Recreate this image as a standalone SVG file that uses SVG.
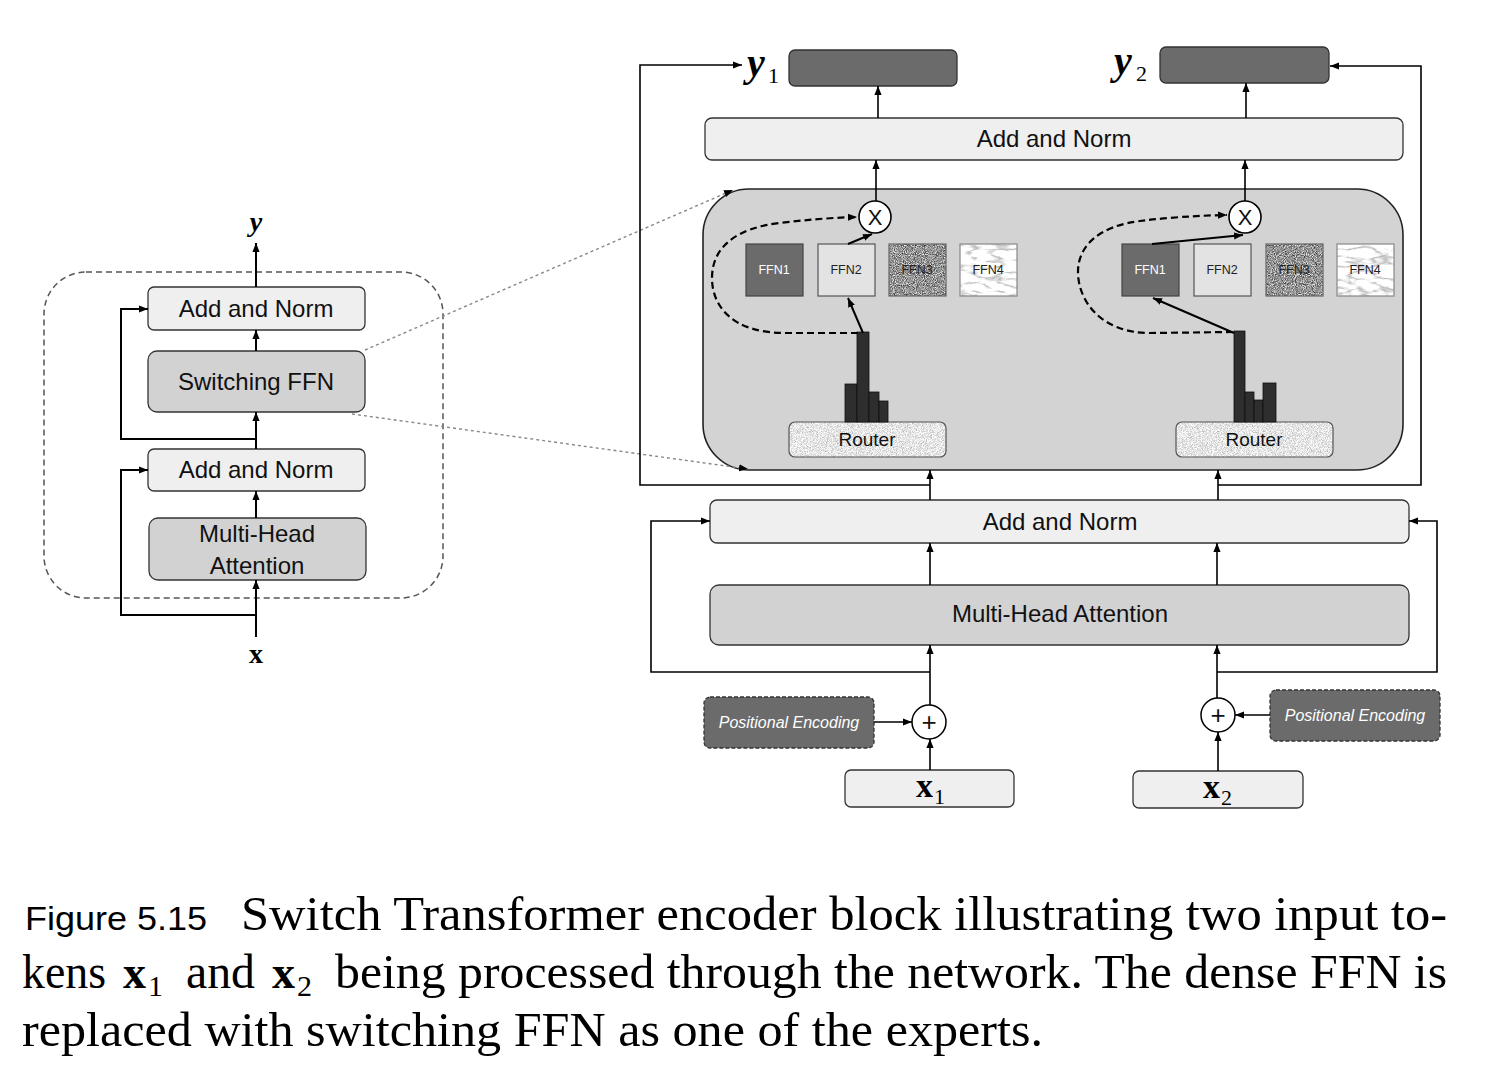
<svg xmlns="http://www.w3.org/2000/svg" width="1492" height="1076" viewBox="0 0 1492 1076">
<style>
.box{stroke:#333;stroke-width:1.3}
.light{fill:#efefef}
.mid{fill:#d2d2d2}
.dark{fill:#6b6b6b}
.ln{fill:none;stroke:#000;stroke-width:1.6}
.lnl{fill:none;stroke:#000;stroke-width:2}
.dash{fill:none;stroke:#000;stroke-width:2.2;stroke-dasharray:7,4}
.dot{fill:none;stroke:#888;stroke-width:1.4;stroke-dasharray:3,3}
.lbl{font-family:"Liberation Sans",Arial,sans-serif;font-size:24px;fill:#111;text-anchor:middle}
.ffn{font-family:"Liberation Sans",Arial,sans-serif;font-size:12.5px;text-anchor:middle;fill:#222}
.pe{font-family:"Liberation Sans",Arial,sans-serif;font-size:16px;font-style:italic;fill:#fff;text-anchor:middle}
.math{font-family:"Liberation Serif","Times New Roman",serif;font-weight:bold;fill:#000}
.sub{font-family:"Liberation Serif","Times New Roman",serif;fill:#000}
.cap{font-family:"Liberation Serif","Times New Roman",serif;font-size:48px;fill:#000}
.bar{fill:#2e2e2e;stroke:#111;stroke-width:0.8}
</style>
<defs>
<marker id="ah" viewBox="0 0 10 10" refX="10" refY="5" markerWidth="9" markerHeight="9" markerUnits="userSpaceOnUse" orient="auto"><path d="M0,1 L10,5 L0,9 z" fill="#000"/></marker>
<filter id="fNoise" x="0" y="0" width="1" height="1" color-interpolation-filters="sRGB">
<feTurbulence type="fractalNoise" baseFrequency="1.1" numOctaves="1" seed="5" result="n"/>
<feColorMatrix in="n" type="matrix" values="1.4 0 0 0 -0.12  1.4 0 0 0 -0.12  1.4 0 0 0 -0.12  0 0 0 0 1" result="g"/>
<feComposite in="g" in2="SourceAlpha" operator="in"/>
</filter>
<filter id="fMarble" x="0" y="0" width="1" height="1" color-interpolation-filters="sRGB">
<feTurbulence type="turbulence" baseFrequency="0.04 0.12" numOctaves="3" seed="8" result="n"/>
<feColorMatrix in="n" type="matrix" values="1.0 0 0 0 0.7  1.0 0 0 0 0.7  1.0 0 0 0 0.7  0 0 0 0 1" result="g"/>
<feComposite in="g" in2="SourceAlpha" operator="in"/>
</filter>
<filter id="fSpeck" x="0" y="0" width="1" height="1" color-interpolation-filters="sRGB">
<feTurbulence type="fractalNoise" baseFrequency="1.2" numOctaves="2" seed="3" result="n"/>
<feColorMatrix in="n" type="matrix" values="0.6 0 0 0 0.6  0.6 0 0 0 0.6  0.6 0 0 0 0.6  0 0 0 0 1" result="g"/>
<feComposite in="g" in2="SourceAlpha" operator="in"/>
</filter>
</defs>
<rect width="1492" height="1076" fill="#fff"/>

<!-- Left encoder block -->
<g id="left-block">
<rect x="44" y="272" width="399" height="326" rx="42" fill="none" stroke="#555" stroke-width="1.5" stroke-dasharray="6,4"/>
</g>
<g id="left-addnorm-top"><rect class="box light" x="148" y="287" width="217" height="43" rx="6"/><text class="lbl" x="256" y="317">Add and Norm</text></g>
<g id="left-switching-ffn"><rect class="box mid" x="148" y="351" width="217" height="61" rx="9"/><text class="lbl" x="256" y="390">Switching FFN</text></g>
<g id="left-addnorm-bottom"><rect class="box light" x="148" y="449" width="217" height="42" rx="6"/><text class="lbl" x="256" y="478">Add and Norm</text></g>
<g id="left-mha"><rect class="box mid" x="149" y="518" width="217" height="62" rx="9"/><text class="lbl" x="257" y="542">Multi-Head</text><text class="lbl" x="257" y="574">Attention</text></g>
<g id="left-y"><text class="math" x="256" y="231" font-size="28" font-style="italic" text-anchor="middle">y</text></g>
<g id="left-x"><text class="math" x="256" y="663" font-size="28" text-anchor="middle">x</text></g>

<!-- Right: outputs -->
<g id="y1"><rect class="box dark" x="789" y="50" width="168" height="36" rx="6"/><text class="math" x="747" y="76" font-size="40" font-style="italic">y</text><text class="sub" x="768" y="83" font-size="22">1</text></g>
<g id="y2"><rect class="box dark" x="1160" y="47" width="169" height="36" rx="6"/><text class="math" x="1114" y="74" font-size="40" font-style="italic">y</text><text class="sub" x="1136" y="81" font-size="22">2</text></g>
<g id="addnorm-top"><rect class="box light" x="705" y="118" width="698" height="42" rx="7"/><text class="lbl" x="1054" y="147">Add and Norm</text></g>

<!-- Switching FFN expanded -->
<g id="switch-block"><rect x="703" y="189" width="700" height="281" rx="46" fill="#d3d3d3" stroke="#222" stroke-width="1.6"/></g>

<g id="ffn-left">
<g id="ffn1-a"><rect class="dark" x="746" y="244" width="57" height="52" stroke="#444" stroke-width="1.2"/><text class="ffn" x="774" y="274" style="fill:#fff">FFN1</text></g>
<g id="ffn2-a"><rect x="818" y="244" width="57" height="52" fill="#e3e3e3" stroke="#555" stroke-width="1.2"/><text class="ffn" x="846" y="274">FFN2</text></g>
<g id="ffn3-a"><rect x="889" y="244" width="57" height="52" fill="#888" filter="url(#fNoise)"/><rect x="889" y="244" width="57" height="52" fill="none" stroke="#666" stroke-width="1.2"/><text class="ffn" x="917" y="274">FFN3</text></g>
<g id="ffn4-a"><rect x="960" y="244" width="57" height="52" fill="#eee" filter="url(#fMarble)"/><rect x="960" y="244" width="57" height="52" fill="none" stroke="#888" stroke-width="1.2"/><text class="ffn" x="988" y="274">FFN4</text></g>
<g id="router-a"><rect x="789" y="422" width="157" height="35" rx="6" fill="#eaeaea" filter="url(#fSpeck)"/><rect x="789" y="422" width="157" height="35" rx="6" fill="none" stroke="#555" stroke-width="1.2"/><text class="lbl" x="867" y="446" style="font-size:19px">Router</text></g>
<g id="hist-a"><rect class="bar" x="845" y="384" width="12" height="38"/><rect class="bar" x="857" y="332" width="12" height="90"/><rect class="bar" x="869" y="392" width="10" height="30"/><rect class="bar" x="879" y="401" width="9" height="21"/></g>
<g id="mult-a"><circle cx="875" cy="217" r="16" fill="#fff" stroke="#000" stroke-width="1.6"/><text class="lbl" x="875" y="225" style="font-size:22px">X</text></g>
</g>

<g id="ffn-right">
<g id="ffn1-b"><rect class="dark" x="1122" y="244" width="57" height="52" stroke="#444" stroke-width="1.2"/><text class="ffn" x="1150" y="274" style="fill:#fff">FFN1</text></g>
<g id="ffn2-b"><rect x="1194" y="244" width="57" height="52" fill="#e3e3e3" stroke="#555" stroke-width="1.2"/><text class="ffn" x="1222" y="274">FFN2</text></g>
<g id="ffn3-b"><rect x="1266" y="244" width="57" height="52" fill="#888" filter="url(#fNoise)"/><rect x="1266" y="244" width="57" height="52" fill="none" stroke="#666" stroke-width="1.2"/><text class="ffn" x="1294" y="274">FFN3</text></g>
<g id="ffn4-b"><rect x="1337" y="244" width="57" height="52" fill="#eee" filter="url(#fMarble)"/><rect x="1337" y="244" width="57" height="52" fill="none" stroke="#888" stroke-width="1.2"/><text class="ffn" x="1365" y="274">FFN4</text></g>
<g id="router-b"><rect x="1176" y="422" width="157" height="35" rx="6" fill="#eaeaea" filter="url(#fSpeck)"/><rect x="1176" y="422" width="157" height="35" rx="6" fill="none" stroke="#555" stroke-width="1.2"/><text class="lbl" x="1254" y="446" style="font-size:19px">Router</text></g>
<g id="hist-b"><rect class="bar" x="1234" y="331" width="11" height="91"/><rect class="bar" x="1245" y="392" width="9" height="30"/><rect class="bar" x="1254" y="400" width="9" height="22"/><rect class="bar" x="1263" y="383" width="13" height="39"/></g>
<g id="mult-b"><circle cx="1245" cy="217" r="16" fill="#fff" stroke="#000" stroke-width="1.6"/><text class="lbl" x="1245" y="225" style="font-size:22px">X</text></g>
</g>

<g id="addnorm-mid"><rect class="box light" x="710" y="500" width="699" height="43" rx="7"/><text class="lbl" x="1060" y="530">Add and Norm</text></g>
<g id="mha"><rect class="box mid" x="710" y="585" width="699" height="60" rx="9"/><text class="lbl" x="1060" y="622">Multi-Head Attention</text></g>

<g id="pe-left"><rect x="704" y="697" width="170" height="51" rx="6" fill="#6b6b6b" stroke="#333" stroke-width="1.3" stroke-dasharray="4,2"/><text class="pe" x="789" y="728">Positional Encoding</text></g>
<g id="pe-right"><rect x="1270" y="690" width="170" height="51" rx="6" fill="#6b6b6b" stroke="#333" stroke-width="1.3" stroke-dasharray="4,2"/><text class="pe" x="1355" y="721">Positional Encoding</text></g>
<g id="plus-left"><circle cx="929" cy="722" r="17" fill="#fff" stroke="#000" stroke-width="1.5"/><text class="lbl" x="929" y="731" style="font-size:26px">+</text></g>
<g id="plus-right"><circle cx="1218" cy="715" r="17" fill="#fff" stroke="#000" stroke-width="1.5"/><text class="lbl" x="1218" y="724" style="font-size:26px">+</text></g>
<g id="x1"><rect class="box light" x="845" y="770" width="169" height="37" rx="6"/><text class="math" x="916" y="797" font-size="34">x</text><text class="sub" x="934" y="804" font-size="22">1</text></g>
<g id="x2"><rect class="box light" x="1133" y="771" width="170" height="37" rx="6"/><text class="math" x="1203" y="798" font-size="34">x</text><text class="sub" x="1221" y="805" font-size="22">2</text></g>

<!-- Connectors -->
<g id="connectors">
<path class="lnl" d="M256,637 L256,580" marker-end="url(#ah)"/>
<path class="lnl" d="M256,615 L121,615 L121,470 L148,470" marker-end="url(#ah)"/>
<path class="lnl" d="M256,518 L256,491" marker-end="url(#ah)"/>
<path class="lnl" d="M256,449 L256,412" marker-end="url(#ah)"/>
<path class="lnl" d="M256,439 L121,439 L121,309 L148,309" marker-end="url(#ah)"/>
<path class="lnl" d="M256,351 L256,330" marker-end="url(#ah)"/>
<path class="lnl" d="M256,287 L256,243" marker-end="url(#ah)"/>
<path class="dot" d="M365,350 L733,190" marker-end="url(#ah)"/>
<path class="dot" d="M352,414 L748,469" marker-end="url(#ah)"/>
<path class="ln" d="M930,770 L930,739" marker-end="url(#ah)"/>
<path class="ln" d="M1218,771 L1218,732" marker-end="url(#ah)"/>
<path class="ln" d="M874,722 L912,722" marker-end="url(#ah)"/>
<path class="ln" d="M1270,715 L1235,715" marker-end="url(#ah)"/>
<path class="ln" d="M930,705 L930,645" marker-end="url(#ah)"/>
<path class="ln" d="M1217,698 L1217,645" marker-end="url(#ah)"/>
<path class="ln" d="M930,672 L651,672 L651,521 L710,521" marker-end="url(#ah)"/>
<path class="ln" d="M1217,672 L1437,672 L1437,521 L1409,521" marker-end="url(#ah)"/>
<path class="ln" d="M930,585 L930,543" marker-end="url(#ah)"/>
<path class="ln" d="M1217,585 L1217,543" marker-end="url(#ah)"/>
<path class="ln" d="M930,500 L930,470" marker-end="url(#ah)"/>
<path class="ln" d="M1218,500 L1218,470" marker-end="url(#ah)"/>
<path class="ln" d="M930,485 L640,485 L640,65 L742,65" marker-end="url(#ah)"/>
<path class="ln" d="M1218,485 L1421,485 L1421,66 L1330,66" marker-end="url(#ah)"/>
<path class="lnl" d="M863,333 L848,298" marker-end="url(#ah)"/>
<path class="lnl" d="M848,244 L872,234" marker-end="url(#ah)"/>
<path class="lnl" d="M1234,333 L1153,298" marker-end="url(#ah)"/>
<path class="lnl" d="M1152,244 L1243,235" marker-end="url(#ah)"/>
<path class="dash" d="M858,333 L785,333 C732,333 712,306 712,278 C712,248 735,228 780,223 Q820,218 857,217" marker-end="url(#ah)"/>
<path class="dash" d="M1233,332 L1150,333 C1100,333 1078,300 1078,272 C1078,245 1100,226 1140,221 Q1180,216 1227,215" marker-end="url(#ah)"/>
<path class="ln" d="M876,201 L876,160" marker-end="url(#ah)"/>
<path class="ln" d="M1245,201 L1245,160" marker-end="url(#ah)"/>
<path class="ln" d="M878,118 L878,86" marker-end="url(#ah)"/>
<path class="ln" d="M1246,118 L1246,83" marker-end="url(#ah)"/>
</g>

<!-- Caption -->
<g id="caption">
<text x="25" y="930" font-family="'Liberation Sans',Arial,sans-serif" font-size="34" textLength="182" lengthAdjust="spacingAndGlyphs">Figure 5.15</text>
<text class="cap" x="241" y="930" textLength="1206" lengthAdjust="spacingAndGlyphs">Switch Transformer encoder block illustrating two input to-</text>
<text class="cap" x="22" y="988" textLength="84" lengthAdjust="spacingAndGlyphs">kens</text>
<text class="math" x="123" y="988" font-size="46">x</text><text class="sub" x="148" y="996" font-size="30">1</text>
<text class="cap" x="186" y="988" textLength="69" lengthAdjust="spacingAndGlyphs">and</text>
<text class="math" x="272" y="988" font-size="46">x</text><text class="sub" x="297" y="996" font-size="30">2</text>
<text class="cap" x="335" y="988" textLength="1112" lengthAdjust="spacingAndGlyphs">being processed through the network. The dense FFN is</text>
<text class="cap" x="22" y="1046" textLength="1021" lengthAdjust="spacingAndGlyphs">replaced with switching FFN as one of the experts.</text>
</g>
</svg>
